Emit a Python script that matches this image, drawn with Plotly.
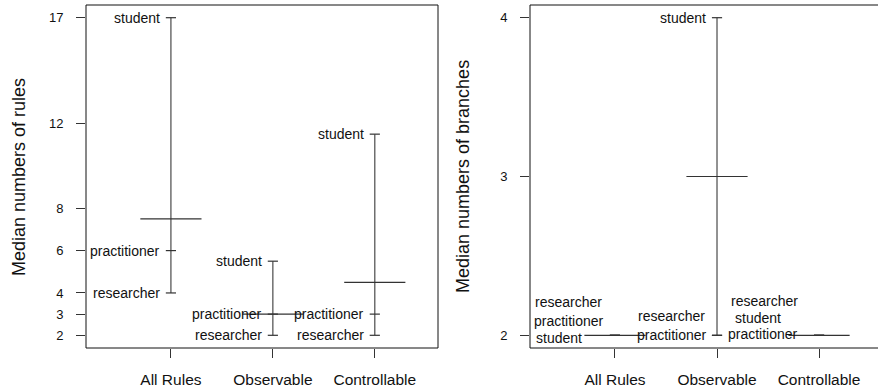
import plotly.graph_objects as go

# ---------------- data ----------------
categories = ["All Rules", "Observable", "Controllable"]
groups = ["researcher", "practitioner", "student"]

rules_researcher = [4, 2, 2]
rules_practitioner = [6, 3, 3]
rules_student = [17, 5.5, 11.5]
rules_overall = [7.5, 3, 4.5]
rules_ticks = [2, 3, 4, 6, 8, 12, 17]

branches_researcher = [2, 2, 2]
branches_practitioner = [2, 2, 2]
branches_student = [2, 4, 2]
branches_overall = [2, 3, 2]
branches_ticks = [2, 3, 4]

# ---------------- styling ----------------
FONT = "Liberation Sans, Arial, Helvetica, sans-serif"
LINE = "#4a4a4a"
W, H = 878, 388
MED_HALF = 0.3
TICK_HALF = 0.05

fig = go.Figure()


def add_panel(xa, ya, res, pra, stu, overall):
    xs_v, ys_v, xs_m, ys_m, xs_t, ys_t = [], [], [], [], [], []
    for i in range(len(categories)):
        x = i + 1
        vals = [res[i], pra[i], stu[i]]
        xs_v += [x, x, None]
        ys_v += [min(vals), max(vals), None]
        xs_m += [x - MED_HALF, x + MED_HALF, None]
        ys_m += [overall[i], overall[i], None]
        for v in vals:
            xs_t += [x - TICK_HALF, x + TICK_HALF, None]
            ys_t += [v, v, None]
    for xs, ys, col in ((xs_v, ys_v, LINE), (xs_m, ys_m, "#333333"), (xs_t, ys_t, "#333333")):
        fig.add_trace(go.Scatter(x=xs, y=ys, mode="lines", xaxis=xa, yaxis=ya,
                                 line=dict(color=col, width=1.2), hoverinfo="skip",
                                 showlegend=False, cliponaxis=False))


add_panel("x", "y", rules_researcher, rules_practitioner, rules_student, rules_overall)
add_panel("x2", "y2", branches_researcher, branches_practitioner, branches_student, branches_overall)

annotations = []


def lab(xref, yref, x, y, text, xanchor="right", xshift=-9, yshift=0):
    annotations.append(dict(x=x, y=y, xref=xref, yref=yref, text=text, showarrow=False,
                            xanchor=xanchor, yanchor="middle", xshift=xshift, yshift=yshift,
                            font=dict(family=FONT, size=14, color="#111111")))


# left panel labels: right of label touches point
for i in range(3):
    lab("x", "y", i + 1, rules_researcher[i], "researcher")
    lab("x", "y", i + 1, rules_practitioner[i], "practitioner")
    lab("x", "y", i + 1, rules_student[i], "student")

# right panel labels (stacked where values coincide)
lab("x2", "y2", 1, branches_researcher[0], "researcher", xanchor="left", xshift=-82, yshift=33)
lab("x2", "y2", 1, branches_practitioner[0], "practitioner", xanchor="left", xshift=-83, yshift=14)
lab("x2", "y2", 1, branches_student[0], "student", xanchor="left", xshift=-81, yshift=-3)

lab("x2", "y2", 2, branches_student[1], "student", xshift=-9)
lab("x2", "y2", 2, branches_researcher[1], "researcher", xshift=-10, yshift=19)
lab("x2", "y2", 2, branches_practitioner[1], "practitioner", xshift=-8, yshift=0)

lab("x2", "y2", 3, branches_researcher[2], "researcher", xanchor="center", xshift=-55, yshift=34)
lab("x2", "y2", 3, branches_student[2], "student", xanchor="center", xshift=-61, yshift=17)
lab("x2", "y2", 3, branches_practitioner[2], "practitioner", xanchor="center", xshift=-56, yshift=1)

# axis titles
annotations.append(dict(x=19 / W, y=1 - 177 / H, xref="paper", yref="paper",
                        text="Median numbers of rules", textangle=-90, showarrow=False,
                        xanchor="center", yanchor="middle",
                        font=dict(family=FONT, size=18, color="#111111")))
annotations.append(dict(x=463 / W, y=1 - 177 / H, xref="paper", yref="paper",
                        text="Median numbers of branches", textangle=-90, showarrow=False,
                        xanchor="center", yanchor="middle",
                        font=dict(family=FONT, size=18, color="#111111")))

ydom = [1 - 348 / H, 1 - 5 / H]
xcommon = dict(tickvals=[1, 2, 3], ticktext=categories, ticks="outside", ticklen=9,
               tickcolor="#333333", tickwidth=1, showline=False, showgrid=False,
               zeroline=False, automargin=False, ticklabelstandoff=8,
               tickfont=dict(family=FONT, size=15.5, color="#111111"))
ycommon = dict(ticks="outside", ticklen=9, tickcolor="#333333", tickwidth=1,
               showline=False, showgrid=False, zeroline=False, automargin=False,
               ticklabelstandoff=10, domain=ydom,
               tickfont=dict(family=FONT, size=13, color="#111111"))

fig.update_layout(
    width=W, height=H,
    margin=dict(l=0, r=0, t=0, b=0),
    paper_bgcolor="white", plot_bgcolor="white",
    showlegend=False,
    xaxis=dict(domain=[86 / W, 438 / W], range=[0.167, 3.62], anchor="y", **xcommon),
    yaxis=dict(range=[1.4, 17.6], tickvals=rules_ticks, anchor="x", **ycommon),
    xaxis2=dict(domain=[530 / W, 1.0], range=[0.167, 3.578], anchor="y2", **xcommon),
    yaxis2=dict(range=[1.92, 4.08], tickvals=branches_ticks, anchor="x2", **ycommon),
    annotations=annotations,
    shapes=[
        dict(type="rect", xref="x domain", yref="y domain", x0=0, x1=1, y0=0, y1=1,
             line=dict(color="#111111", width=1)),
        dict(type="rect", xref="x2 domain", yref="y2 domain", x0=0, x1=1.05, y0=0, y1=1,
             line=dict(color="#111111", width=1)),
    ],
)

fig.write_html("out.html", config={"displayModeBar": False},
               post_script="document.body.style.margin='0';document.body.style.overflow='hidden';")
